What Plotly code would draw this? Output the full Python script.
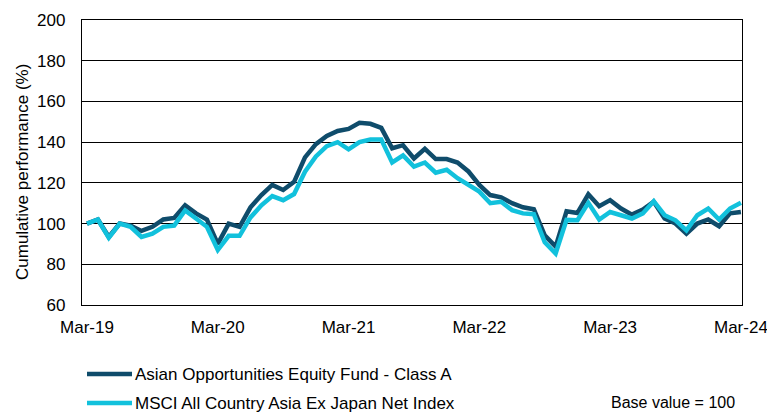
import plotly.graph_objects as go

# Monthly labels Mar-19 .. Mar-24
month_names = ["Jan", "Feb", "Mar", "Apr", "May", "Jun", "Jul", "Aug", "Sep", "Oct", "Nov", "Dec"]
months = []
for k in range(61):
    m = (2 + k) % 12
    y = 19 + (2 + k) // 12
    months.append(f"{month_names[m]}-{y:02d}")

tick_labels = ["Mar-19", "Mar-20", "Mar-21", "Mar-22", "Mar-23", "Mar-24"]

fund = [100, 102, 93.4, 100, 99, 96.4, 98.4, 102, 102.8, 109, 105, 102, 90, 100, 98.4,
        108, 114, 119, 116.5, 120.5, 132.5, 139, 143, 145.5, 146.5, 149.5, 149, 147, 137,
        138.5, 132, 136.7, 131.7, 131.7, 130, 125.6, 119, 114, 112.9, 110, 108, 107, 94.2,
        88.7, 106, 105.2, 114.4, 108.5, 111.5, 107.4, 104.4, 106.9, 110.7, 102.5, 100, 95,
        100, 102, 98.7, 105, 105.7]

index = [100, 102, 93, 100, 98.4, 93.4, 95, 98.4, 99, 106.5, 102.5, 98.4, 87, 94, 94,
         103, 109, 113.5, 111.5, 114.5, 125.5, 133, 138, 140, 136.5, 140, 141.3, 141.3, 130,
         133.5, 128, 130, 125, 126.4, 122.3, 119, 115.7, 110, 110.7, 106.6, 105, 104.6, 90.8,
         85.3, 101.8, 101.6, 110.2, 102, 105.7, 104.1, 102.5, 105, 111, 104.1, 101.6, 96.7,
         104.1, 107.4, 102, 107.4, 110.2]

series_names = ["Asian Opportunities Equity Fund - Class A",
                "MSCI All Country Asia Ex Japan Net Index"]
colors = ["#0f4c6b", "#12c1dc"]

FONT = "Liberation Sans, Arial, sans-serif"
W, H = 767, 414
L, R, T, B = 82, 25, 20, 109

fig = go.Figure()
for vals, name, col in [(fund, series_names[0], colors[0]), (index, series_names[1], colors[1])]:
    fig.add_trace(go.Scatter(x=months, y=vals, mode="lines", name=name,
                             line=dict(color=col, width=4.5), showlegend=False))

fig.update_layout(
    width=W, height=H,
    margin=dict(l=L, r=R, t=T, b=B, autoexpand=False),
    paper_bgcolor="white", plot_bgcolor="white",
    font=dict(family=FONT, size=17, color="#000000"),
    xaxis=dict(type="category", range=[-0.46, 60.1], tickvals=tick_labels, ticktext=tick_labels,
               showgrid=False, showline=True, linecolor="black", linewidth=1.3, mirror=True,
               ticks="", ticklabelstandoff=6, tickfont=dict(size=17), automargin=False),
    yaxis=dict(range=[60, 200], dtick=20, tick0=60, showgrid=True, gridcolor="black", gridwidth=1.3,
               showline=True, linecolor="black", linewidth=1.3, mirror=True, zeroline=False,
               ticks="", ticklabelstandoff=12, tickfont=dict(size=17), automargin=False),
)

pw, ph = W - L - R, H - T - B
def px(xp):
    return (xp - L) / pw
def py(yp):
    return 1 - (yp - T) / ph

# y-axis title
fig.add_annotation(text="Cumulative performance (%)", xref="paper", yref="paper",
                   x=px(22), y=py(172), textangle=-90, showarrow=False, font=dict(size=17),
                   xanchor="center", yanchor="middle")

# custom legend
for name, col, yc in [(series_names[0], colors[0], 374), (series_names[1], colors[1], 403)]:
    fig.add_shape(type="line", xref="paper", yref="paper", x0=px(87), x1=px(132), y0=py(yc), y1=py(yc),
                  line=dict(color=col, width=4.5))
    fig.add_annotation(text=name, xref="paper", yref="paper", x=px(133), y=py(yc), xanchor="left",
                       yanchor="middle", showarrow=False, font=dict(size=17))

fig.add_annotation(text="Base value = 100", xref="paper", yref="paper", x=px(737), y=py(402),
                   xanchor="right", yanchor="middle", showarrow=False, font=dict(size=16))

fig.write_html("out.html")
